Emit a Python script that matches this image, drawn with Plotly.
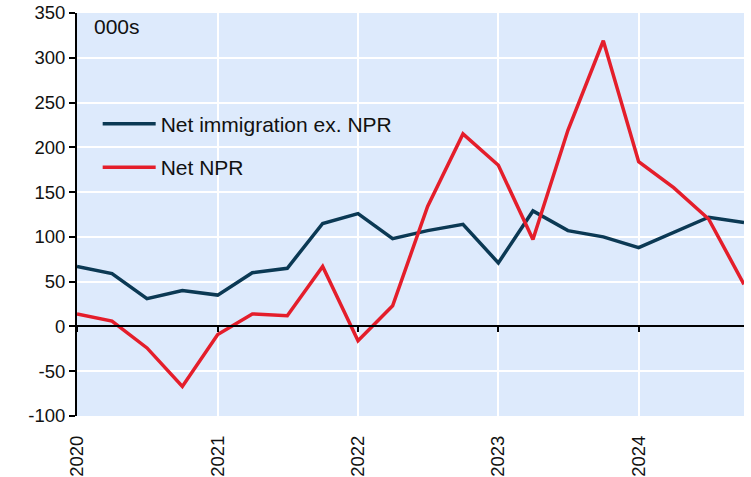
import plotly.graph_objects as go

quarters = ["2020-01-01", "2020-04-01", "2020-07-01", "2020-10-01",
            "2021-01-01", "2021-04-01", "2021-07-01", "2021-10-01",
            "2022-01-01", "2022-04-01", "2022-07-01", "2022-10-01",
            "2023-01-01", "2023-04-01", "2023-07-01", "2023-10-01",
            "2024-01-01", "2024-04-01", "2024-07-01", "2024-10-01"]
net_immigration_ex_npr = [67, 59, 31, 40, 35, 60, 65, 115, 126, 98, 107, 114,
                          71, 129, 107, 100, 88, 105, 122, 116]
net_npr = [14, 6, -24, -67, -9, 14, 12, 67, -16, 23, 134, 215,
           180, 97, 219, 319, 184, 155, 120, 47]
year_ticks = ["2020-01-01", "2021-01-01", "2022-01-01", "2023-01-01", "2024-01-01"]
year_labels = ["2020", "2021", "2022", "2023", "2024"]
y_ticks = [-100, -50, 0, 50, 100, 150, 200, 250, 300, 350]
y_labels = ["-100", "-50", "0", "50", "100", "150", "200", "250", "300", "350"]

NAVY = "#0b3954"
RED = "#e41e2b"
BG = "#ddeafc"
FONT = "Liberation Sans, Arial, sans-serif"

fig = go.Figure()
fig.add_trace(go.Scatter(x=quarters, y=net_immigration_ex_npr, mode="lines",
                         name="Net immigration ex. NPR", legendgroup="a",
                         line=dict(color=NAVY, width=3.5)))
fig.add_trace(go.Scatter(x=quarters, y=net_npr, mode="lines",
                         name="Net NPR", legendgroup="b",
                         line=dict(color=RED, width=3.5)))

fig.update_layout(
    width=751, height=477,
    margin=dict(l=77, r=7, t=13, b=61),
    paper_bgcolor="white", plot_bgcolor=BG,
    font=dict(family=FONT, size=18.5, color="#111111"),
    showlegend=True,
    legend=dict(x=0.031, y=0.775, xanchor="left", yanchor="top",
                bgcolor="rgba(0,0,0,0)", traceorder="grouped",
                tracegroupgap=13, itemwidth=53, font=dict(size=21)),
    xaxis=dict(type="date", range=["2020-01-01", "2024-10-01"],
               tickvals=year_ticks, ticktext=year_labels, tickangle=-90,
               showgrid=True, gridcolor="white", gridwidth=2,
               showline=False, ticks="", zeroline=False, automargin=False,
               ticklabelstandoff=15, tickfont=dict(size=18.5)),
    xaxis2=dict(type="date", range=["2020-01-01", "2024-10-01"],
                overlaying="x", anchor="free", position=100 / 450,
                tickvals=year_ticks, showticklabels=False, automargin=False,
                showline=True, linecolor="black", linewidth=2,
                ticks="outside", ticklen=5, tickwidth=2, tickcolor="black",
                showgrid=False, zeroline=False),
    yaxis=dict(range=[-100, 350], tickvals=y_ticks, ticktext=y_labels,
               showgrid=True, gridcolor="white", automargin=False,
               gridwidth=2, showline=True, linecolor="black", linewidth=2,
               ticks="outside", ticklen=6, tickwidth=2, tickcolor="black",
               zeroline=False, tickfont=dict(size=18.5)),
    annotations=[dict(text="000s", xref="paper", yref="paper", x=0.022, y=1,
                      xanchor="left", yanchor="top", yshift=0,
                      showarrow=False, font=dict(size=21))],
)

# invisible trace to activate xaxis2
fig.add_trace(go.Scatter(x=quarters[:1], y=[None], xaxis="x2", showlegend=False,
                         hoverinfo="skip"))

fig.write_html("out.html", config={"displayModeBar": False},
               post_script="document.body.style.margin='0';document.body.style.overflow='hidden';")
